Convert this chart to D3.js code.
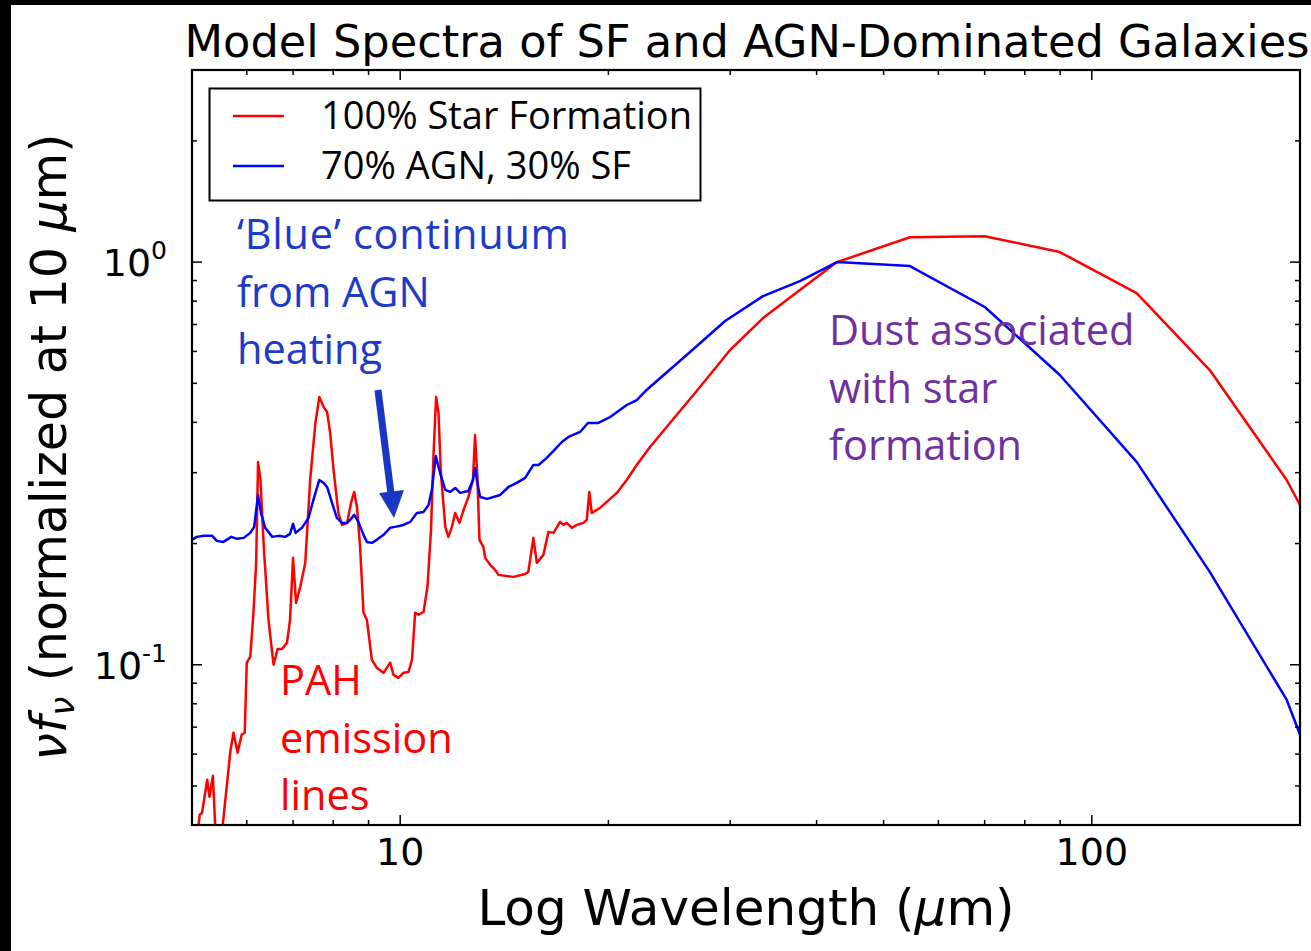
<!DOCTYPE html>
<html>
<head>
<meta charset="utf-8">
<script src="https://cdn.jsdelivr.net/npm/d3@7"></script>
<style>
  body { margin: 0; background: #fff; }
  svg { display: block; }
</style>
</head>
<body>
<svg id="chart" width="1311" height="951"></svg>
<script>
// Star-forming template: wavelength (micron) and nu*f_nu normalised
const sfWavelength = [5.09, 5.11, 5.13, 5.17, 5.26, 5.30, 5.36, 5.40, 5.45, 5.50, 5.54, 5.68, 5.74, 5.82, 5.90, 5.96,
  6.00, 6.07, 6.13, 6.19, 6.23, 6.28, 6.35, 6.45, 6.56, 6.65, 6.75, 6.86, 6.93, 7.00, 7.07, 7.17, 7.29, 7.41, 7.54,
  7.64, 7.75, 7.84, 7.92, 8.01, 8.14, 8.24, 8.38, 8.49, 8.58, 8.66, 8.75, 8.85, 8.95, 9.10, 9.25, 9.46, 9.67, 9.78,
  9.94, 10.11, 10.28, 10.40, 10.51, 10.63, 10.81, 10.95, 11.08, 11.17, 11.27, 11.36, 11.45, 11.62, 11.74, 11.88,
  12.01, 12.18, 12.35, 12.55, 12.74, 12.83, 12.93, 13.02, 13.19, 13.27, 13.49, 13.72, 13.87, 14.58, 15.16, 15.32,
  15.58, 15.76, 16.11, 16.38, 16.66, 17.03, 17.22, 17.41, 17.71, 18.00, 18.40, 18.61, 18.77, 18.92, 19.45, 20.57,
  21.26, 21.98, 22.97, 27.13, 29.99, 33.47, 37.84, 42.81, 54.58, 70.03, 89.90, 116.1, 148.1, 191.3, 200];
const sfFlux = [0.036, 0.0401, 0.0424, 0.0429, 0.0518, 0.0470, 0.0530, 0.0401, 0.036, 0.036, 0.0401, 0.0608, 0.0678, 0.0605, 0.0671, 0.0678,
  0.1012, 0.1047, 0.1315, 0.178, 0.319, 0.2877, 0.1963, 0.1293, 0.1000, 0.1095, 0.1095, 0.1134, 0.1293, 0.1843, 0.1425, 0.1562, 0.1791, 0.2877, 0.3986,
  0.4624, 0.4368, 0.4244, 0.3764, 0.3047, 0.2383, 0.2225, 0.2251, 0.2523, 0.2687, 0.2466, 0.1963, 0.1346, 0.1293, 0.1029, 0.0983, 0.0955, 0.1012, 0.0944,
  0.0928, 0.0955, 0.0960, 0.1029, 0.1346, 0.1331, 0.1354, 0.1562, 0.2163, 0.3282, 0.4624, 0.4220, 0.2995, 0.2200, 0.2078, 0.2200,
  0.2383, 0.2251, 0.2424, 0.2611, 0.2877, 0.3721, 0.2927, 0.2043, 0.1963, 0.1843, 0.1771, 0.1720, 0.1672, 0.1653, 0.1681, 0.1701,
  0.2066, 0.1791, 0.1875, 0.2138, 0.2126, 0.2264, 0.2225, 0.2251, 0.2188, 0.2225, 0.2251, 0.2290, 0.2687, 0.2383, 0.2452, 0.2672,
  0.2877, 0.3135, 0.3475, 0.4896, 0.6049, 0.7262, 0.8522, 1.0, 1.153, 1.160, 1.059, 0.8377, 0.5395, 0.2877, 0.2495];

// AGN-dominated template (70% AGN, 30% SF)
const agnWavelength = [5.00, 5.08, 5.20, 5.35, 5.43, 5.55, 5.70, 5.81, 5.94, 6.07, 6.15, 6.23, 6.29, 6.38, 6.53, 6.67,
  6.82, 6.93, 7.00, 7.06, 7.21, 7.37, 7.49, 7.64, 7.75, 7.84, 7.97, 8.10, 8.24, 8.38, 8.49, 8.58, 8.70, 8.85, 8.95,
  9.10, 9.25, 9.46, 9.67, 9.83, 10.11, 10.34, 10.57, 10.81, 10.99, 11.11, 11.26, 11.42, 11.62, 11.81, 12.01, 12.21,
  12.55, 12.74, 12.83, 12.93, 13.05, 13.35, 13.95, 14.34, 14.74, 15.16, 15.58, 15.85, 16.29, 16.66, 17.13, 17.51,
  18.20, 18.68, 19.35, 20.12, 21.26, 21.98, 22.72, 22.97, 26.25, 29.50, 33.47, 37.84, 42.81, 54.58, 70.03, 89.90,
  116.1, 148.1, 191.3, 200];
const agnFlux = [0.2043, 0.2078, 0.2090, 0.2090, 0.2031, 0.2019, 0.2078, 0.2055, 0.2066, 0.2126, 0.2200, 0.2641, 0.2383, 0.2188, 0.2078, 0.2090,
  0.2078, 0.2114, 0.2238, 0.2126, 0.2188, 0.2317, 0.2567, 0.2877, 0.2829, 0.2764, 0.2523, 0.2317, 0.2251, 0.2251, 0.2303, 0.2357, 0.2264, 0.2102, 0.2019,
  0.2008, 0.2043, 0.2102, 0.2188, 0.2200, 0.2225, 0.2264, 0.2383, 0.2397, 0.2495, 0.2718, 0.3301, 0.2995, 0.2718, 0.2687, 0.2749, 0.2672,
  0.2702, 0.2877, 0.3082, 0.2829, 0.2611, 0.2582, 0.2641, 0.2764, 0.2829, 0.2911, 0.3135, 0.3135, 0.3264, 0.3396, 0.3575, 0.3679,
  0.3786, 0.3986, 0.3986, 0.4124, 0.4417, 0.4545, 0.4814, 0.4896, 0.5981, 0.7139, 0.8234, 0.8972, 1.0, 0.9774, 0.7735, 0.5243,
  0.3190, 0.1701, 0.0819, 0.0671];

const seriesNames = ["100% Star Formation", "70% AGN, 30% SF"];
const xDomain = [5, 200];
const yDomain = [0.04, 3];
const xMajorTicks = [10, 100];
const xMinorTicks = [5, 6, 7, 8, 9, 20, 30, 40, 50, 60, 70, 80, 90, 200];
const yMajorTicks = [0.1, 1];
const yMinorTicks = [0.04, 0.05, 0.06, 0.07, 0.08, 0.09, 0.2, 0.3, 0.4, 0.5, 0.6, 0.7, 0.8, 0.9, 2, 3];
const xTickLabels = ["10", "100"];
const yTickExponents = ["-1", "0"];

const svg = d3.select("#chart");
const W = 1311, H = 951;
const plot = { left: 192, right: 1300, top: 70, bottom: 825 };

svg.append("rect").attr("width", W).attr("height", H).attr("fill", "#fff");
// dark edge strips of the figure canvas
svg.append("rect").attr("x", 0).attr("y", 0).attr("width", 11).attr("height", H).attr("fill", "#000");
svg.append("rect").attr("x", 0).attr("y", 0).attr("width", W).attr("height", 5).attr("fill", "#000");

const x = d3.scaleLog().domain(xDomain).range([plot.left, plot.right]);
const y = d3.scaleLog().domain(yDomain).range([plot.bottom, plot.top]);

svg.append("defs").append("clipPath").attr("id", "plotClip")
  .append("rect").attr("x", plot.left).attr("y", plot.top)
  .attr("width", plot.right - plot.left).attr("height", plot.bottom - plot.top);

const sfData = sfWavelength.map((w, i) => [w, sfFlux[i]]);
const agnData = agnWavelength.map((w, i) => [w, agnFlux[i]]);
const line = d3.line().x(d => x(d[0])).y(d => y(d[1]));

const curves = svg.append("g").attr("clip-path", "url(#plotClip)");
curves.append("path").datum(sfData).attr("d", line)
  .attr("fill", "none").attr("stroke", "#ff0000").attr("stroke-width", 2.5).attr("stroke-linejoin", "round");
curves.append("path").datum(agnData).attr("d", line)
  .attr("fill", "none").attr("stroke", "#0000ff").attr("stroke-width", 2.5).attr("stroke-linejoin", "round");

// Inward ticks on all four sides
const tickG = svg.append("g").attr("stroke", "#000").attr("stroke-width", 1.5);
function xTicks(vals, len) {
  vals.forEach(v => {
    const px = x(v);
    tickG.append("line").attr("x1", px).attr("x2", px).attr("y1", plot.bottom).attr("y2", plot.bottom - len);
    tickG.append("line").attr("x1", px).attr("x2", px).attr("y1", plot.top).attr("y2", plot.top + len);
  });
}
function yTicks(vals, len) {
  vals.forEach(v => {
    const py = y(v);
    tickG.append("line").attr("y1", py).attr("y2", py).attr("x1", plot.left).attr("x2", plot.left + len);
    tickG.append("line").attr("y1", py).attr("y2", py).attr("x1", plot.right).attr("x2", plot.right - len);
  });
}
xTicks(xMajorTicks, 10); xTicks(xMinorTicks, 5);
yTicks(yMajorTicks, 10); yTicks(yMinorTicks, 5);

// Frame
svg.append("rect").attr("x", plot.left).attr("y", plot.top)
  .attr("width", plot.right - plot.left).attr("height", plot.bottom - plot.top)
  .attr("fill", "none").attr("stroke", "#000").attr("stroke-width", 2.2);

// Tick labels
const labelFont = "'DejaVu Sans', sans-serif";
xMajorTicks.forEach((v, i) => {
  svg.append("text").attr("x", x(v)).attr("y", 865).attr("text-anchor", "middle")
    .attr("font-family", labelFont).attr("font-size", 38).text(xTickLabels[i]);
});
yMajorTicks.forEach((v, i) => {
  const t = svg.append("text").attr("x", 167).attr("y", y(v) + 14).attr("text-anchor", "end")
    .attr("font-family", labelFont).attr("font-size", 38);
  t.append("tspan").text("10");
  t.append("tspan").attr("font-size", 25).attr("dy", -17).text(yTickExponents[i]);
});

// Title and axis labels
svg.append("text").attr("x", (plot.left + plot.right) / 2 + 1).attr("y", 57).attr("text-anchor", "middle")
  .attr("font-family", labelFont).attr("font-size", 44.7).text("Model Spectra of SF and AGN-Dominated Galaxies");

const xl = svg.append("text").attr("x", (plot.left + plot.right) / 2).attr("y", 925).attr("text-anchor", "middle")
  .attr("font-family", labelFont).attr("font-size", 50);
xl.append("tspan").text("Log Wavelength (");
xl.append("tspan").attr("font-style", "italic").text("\u03bc");
xl.append("tspan").text("m)");

const yl = svg.append("text").attr("transform", "translate(66,447) rotate(-90)").attr("text-anchor", "middle")
  .attr("font-family", labelFont).attr("font-size", 49);
yl.append("tspan").attr("font-style", "italic").text("\u03bdf");
yl.append("tspan").attr("font-style", "italic").attr("font-size", 34).attr("dy", 8).text("\u03bd");
yl.append("tspan").attr("dy", -8).text(" (normalized at 10 ");
yl.append("tspan").attr("font-style", "italic").text("\u03bc");
yl.append("tspan").text("m)");

// Legend
const legend = svg.append("g");
legend.append("rect").attr("x", 209.5).attr("y", 88.5).attr("width", 491).attr("height", 112)
  .attr("fill", "#fff").attr("stroke", "#000").attr("stroke-width", 2);
const legendColors = ["#ff0000", "#0000ff"];
seriesNames.forEach((name, i) => {
  const ly = 116 + i * 50;
  legend.append("line").attr("x1", 233).attr("x2", 284).attr("y1", ly).attr("y2", ly)
    .attr("stroke", legendColors[i]).attr("stroke-width", 2.5);
  legend.append("text").attr("x", 321).attr("y", ly + 13)
    .attr("font-family", "'Open Sans', sans-serif").attr("font-size", 38).text(name);
});

// Annotations
const noteFont = "'Open Sans', sans-serif";
function note(lines, x0, y0, color, firstLength) {
  lines.forEach((s, i) => {
    const t = svg.append("text").attr("x", x0).attr("y", y0 + i * 57.5)
      .attr("font-family", noteFont).attr("font-size", 41.5).attr("fill", color).text(s);
    if (i === 0 && firstLength) t.attr("textLength", firstLength).attr("lengthAdjust", "spacing");
  });
}
note(["\u2018Blue\u2019 continuum", "from AGN", "heating"], 237, 249, "#1c3acb", 332);
note(["Dust associated", "with star", "formation"], 829, 345, "#7030a0");
note(["PAH", "emission", "lines"], 280, 695, "#ff0000");

// Arrow pointing at the AGN continuum
const arrowColor = "#1a36c4";
svg.append("line").attr("x1", 378).attr("y1", 390).attr("x2", 391).attr("y2", 494)
  .attr("stroke", arrowColor).attr("stroke-width", 7);
svg.append("polygon").attr("points", "379,493 404,490 394,518").attr("fill", arrowColor);
</script>
</body>
</html>
